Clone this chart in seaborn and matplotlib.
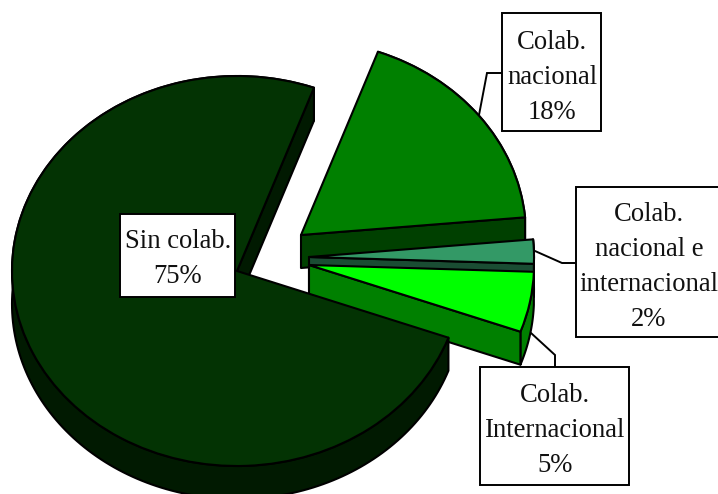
import numpy as np
import matplotlib
matplotlib.use("Agg")
import matplotlib.pyplot as plt
from matplotlib.patches import Rectangle
import seaborn as sns

# Shares of publications by type of collaboration (percent)
categories = ["Sin colab.", "Colab. Internacional", "Colab. nacional e internacional", "Colab. nacional"]
shares = [75, 5, 2, 18]
label_texts = ["Sin colab.\n75%", "Colab.\nInternacional\n5%", "Colab.\nnacional e\ninternacional\n2%", "Colab.\nnacional\n18%"]

top_colors = ["#033303", "#00ff00", "#339966", "#008000"]
side_colors = ["#011a01", "#008000", "#1a4d33", "#004000"]

W, H = 718, 494
CX, CY, RX, RY = 236.0, 270.0, 225.0, 195.0
DEPTH = 33.0 / RY
LW = 1.5

sns.set_theme(style="white")
plt.rcParams["font.family"] = ["Liberation Serif", "DejaVu Serif"]


def xu(px):
    return (px - CX) / RX


def yu(py):
    return (CY - py) / RY


fig = plt.figure(figsize=(W / 100, H / 100), dpi=100)
ax = fig.add_axes([0, 0, 1, 1])
wedges, _ = ax.pie(shares, startangle=70, colors=top_colors, radius=1,
                   wedgeprops=dict(edgecolor="black", linewidth=LW, joinstyle="round"))
ax.set_aspect("auto")
ax.set_xlim(xu(0), xu(W))
ax.set_ylim(yu(H), yu(0))
ax.axis("off")

# Pixel shift of each exploded slice and back-to-front stacking order
shifts = [(1, 1), (73, -5), (73, -13), (65, -35)]
stacking = [4, 3, 2, 1]

for wedge, side, (dx, dy), z in zip(wedges, side_colors, shifts, stacking):
    cx, cy = dx / RX, -dy / RY
    wedge.set_center((cx, cy))
    wedge.set_zorder(z + 0.3)
    t = np.radians(np.linspace(wedge.theta1, wedge.theta2, 200))
    x, y = cx + np.cos(t), cy + np.sin(t)
    # Extruded rim below the outer arc
    ax.fill(np.r_[x, x[::-1]], np.r_[y, y[::-1] - DEPTH], facecolor=side,
            edgecolor="black", linewidth=LW, zorder=z + 0.1, joinstyle="round")
    # Extruded cut face along the radial edge that faces downwards
    if np.sin(np.radians(wedge.theta1 - 90)) < 0:
        ax.fill([cx, x[0], x[0], cx], [cy, y[0], y[0] - DEPTH, cy - DEPTH], facecolor=side,
                edgecolor="black", linewidth=LW, zorder=z + 0.2, joinstyle="round")

# Label boxes: left, top, right, bottom in canvas pixels
boxes = [(119.5, 214, 235, 297), (479.5, 367, 629, 485), (575.5, 187, 722, 337), (501.5, 13, 601, 131)]
leaders = [None,
           [(531, 333), (555, 355), (555, 367)],
           [(535, 251), (562, 263), (575, 263)],
           [(479, 115), (487, 73), (501, 73)]]
text_pos = [(178, 259), (555, 430.5), (649, 267), (552, 77.5)]

for text, (l, t, r, b), path, (tx, ty) in zip(label_texts, boxes, leaders, text_pos):
    ax.add_patch(Rectangle((xu(l), yu(b)), xu(r) - xu(l), yu(t) - yu(b), facecolor="white",
                           edgecolor="black", linewidth=1.4, zorder=10))
    if path:
        ax.plot([xu(p[0]) for p in path], [yu(p[1]) for p in path], color="black",
                linewidth=1.4, zorder=9, solid_joinstyle="miter")
    ax.text(xu(tx), yu(ty), text, ha="center", va="center",
            fontsize=19.2, linespacing=1.52, color="#111111", zorder=11)

fig.savefig("out.png", dpi=100, facecolor="white")
